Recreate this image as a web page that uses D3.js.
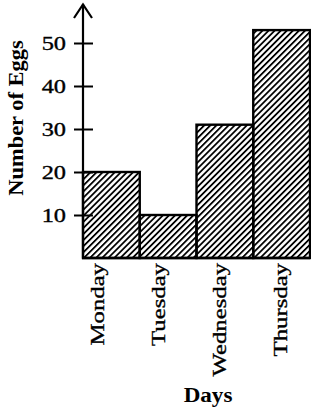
<!DOCTYPE html>
<html>
<head>
<meta charset="utf-8">
<script src="https://cdn.jsdelivr.net/npm/d3@7"></script>
<style>
  html, body { margin: 0; padding: 0; background: #fff; }
  svg { display: block; }
  text { font-family: "Liberation Serif", "Times New Roman", serif; fill: #000; }
  .lbl { stroke: #000; stroke-width: 0.35px; }
</style>
</head>
<body>
<div id="chart"></div>
<script>
// data
const days = ["Monday", "Tuesday", "Wednesday", "Thursday"];
const eggs = [20, 10, 31, 53];
const yTicks = [10, 20, 30, 40, 50];

const W = 311, H = 409;
const margin = {left: 83, right: 1, top: 43, bottom: 151};

const svg = d3.select("#chart").append("svg")
    .attr("width", W)
    .attr("height", H);

// hatch pattern "/"
const defs = svg.append("defs");
defs.append("pattern")
    .attr("id", "hatch")
    .attr("patternUnits", "userSpaceOnUse")
    .attr("width", 4.3)
    .attr("height", 4.3)
    .attr("patternTransform", "rotate(45)")
  .append("rect")
    .attr("x", 0).attr("y", 0)
    .attr("width", 1.8).attr("height", 4.3)
    .attr("fill", "#000");

const x = d3.scaleBand()
    .domain(days)
    .range([margin.left, W - margin.right])
    .padding(0);

// labels sit a bit wider apart than the bars in the original
const xLabel = d3.scalePoint()
    .domain(days)
    .range([98, 281]);

const y = d3.scaleLinear()
    .domain([0, 50])
    .range([H - margin.bottom, margin.top]);

// y axis with ticks crossing the line
const yAxis = svg.append("g")
    .attr("transform", `translate(${margin.left},0)`)
    .call(d3.axisLeft(y).tickValues(yTicks).tickSize(9).tickFormat(d3.format("d")));
yAxis.select(".domain").remove();
yAxis.selectAll(".tick line")
    .attr("x1", -9).attr("x2", 10)
    .attr("stroke", "#000").attr("stroke-width", 2);
yAxis.selectAll(".tick text").remove();
yAxis.selectAll(".tick").append("text")
    .attr("class", "lbl")
    .attr("text-anchor", "end")
    .attr("font-size", 19.5)
    .attr("dy", "0.34em")
    .attr("transform", "translate(-17,0) scale(1.25,1)")
    .text(d => d);

// axis line with open arrow
svg.append("line")
    .attr("x1", margin.left).attr("x2", margin.left)
    .attr("y1", y(0)).attr("y2", 4)
    .attr("stroke", "#000").attr("stroke-width", 2.2);
svg.append("path")
    .attr("d", `M${margin.left - 9},18 L${margin.left},4.5 L${margin.left + 9},18`)
    .attr("fill", "none").attr("stroke", "#000").attr("stroke-width", 2.2);

// bars
svg.append("g").selectAll("rect")
    .data(days)
    .join("rect")
    .attr("x", d => x(d))
    .attr("y", (d, i) => y(eggs[i]))
    .attr("width", x.bandwidth())
    .attr("height", (d, i) => y(0) - y(eggs[i]))
    .attr("fill", "url(#hatch)")
    .attr("stroke", "#000")
    .attr("stroke-width", 2.4);

// baseline
svg.append("line")
    .attr("x1", margin.left - 1).attr("x2", W - margin.right)
    .attr("y1", y(0)).attr("y2", y(0))
    .attr("stroke", "#000").attr("stroke-width", 2.6);

// day labels, rotated
svg.append("g").selectAll("text")
    .data(days)
    .join("text")
    .attr("class", "lbl")
    .attr("text-anchor", "end")
    .attr("font-size", 19.5)
    .attr("transform", d => `translate(${xLabel(d) + 6},${y(0) + 5}) rotate(-90) scale(1.27,1)`)
    .text(d => d);

// axis titles
svg.append("text")
    .attr("text-anchor", "middle")
    .attr("font-size", 21)
    .attr("font-weight", "bold")
    .attr("transform", "translate(23,118) rotate(-90) scale(1.07,1)")
    .text("Number of Eggs");

svg.append("text")
    .attr("text-anchor", "middle")
    .attr("font-size", 22)
    .attr("font-weight", "bold")
    .attr("transform", "translate(208,402) scale(1.05,1)")
    .text("Days");
</script>
</body>
</html>
